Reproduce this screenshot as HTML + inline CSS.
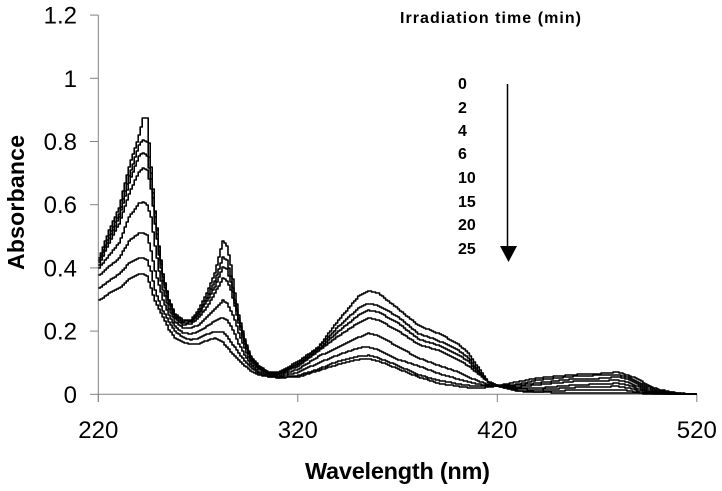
<!DOCTYPE html>
<html>
<head>
<meta charset="utf-8">
<style>
html,body{margin:0;padding:0;background:#fff;}
svg{display:block;font-family:"Liberation Sans",sans-serif;}
</style>
</head>
<body>
<svg id="chart" width="722" height="491" viewBox="0 0 722 491" xmlns="http://www.w3.org/2000/svg">
<rect x="0" y="0" width="722" height="491" fill="#fff"/>
<g id="axes"></g>
<g id="series"></g>
<text transform="translate(24,270) rotate(-90)" font-size="23" font-weight="bold" fill="#000" textLength="135">Absorbance</text>
<text x="305" y="479" font-size="23.5" font-weight="bold" fill="#000" textLength="185">Wavelength (nm)</text>
<text x="400" y="23" font-size="16" font-weight="bold" fill="#000" textLength="181">Irradiation time (min)</text>
<g id="legend"></g>
<line x1="507.5" y1="84" x2="507.5" y2="247" stroke="#000" stroke-width="1.5"/>
<polygon points="500,246 517,246 508.5,262" fill="#000"/>
</svg>
<script>
const wavelengths = [220,225,230,235,240,242,244,246,248,250,252,255,258,262,266,270,274,278,282,284,286,288,290,293,296,300,305,310,320,330,340,350,355,360,370,380,390,400,405,410,415,420,430,440,460,470,480,485,490,495,500,510,520];
const min0 = [.43,.52,.59,.72,.82,.873,.873,.72,.58,.47,.38,.30,.255,.236,.235,.27,.32,.385,.485,.47,.41,.32,.25,.175,.12,.09,.07,.07,.105,.15,.235,.31,.327,.32,.27,.218,.193,.16,.13,.085,.04,.025,.01,.006,.005,.005,.005,.004,.003,.002,.001,.001,0];
const min2 = [.425,.505,.57,.69,.79,.806,.80,.70,.575,.465,.38,.30,.25,.23,.232,.26,.305,.36,.433,.425,.375,.30,.24,.17,.118,.088,.068,.068,.10,.148,.215,.273,.287,.28,.245,.192,.17,.14,.115,.075,.04,.025,.012,.008,.014,.014,.015,.012,.006,.003,.002,.001,0];
const min4 = [.42,.495,.56,.67,.755,.763,.755,.68,.56,.455,.37,.295,.245,.225,.228,.255,.295,.34,.403,.395,.355,.29,.235,.165,.115,.085,.066,.066,.095,.142,.20,.25,.266,.26,.225,.175,.155,.125,.105,.07,.04,.026,.016,.014,.022,.024,.025,.02,.012,.006,.003,.001,0];
const min6 = [.41,.48,.54,.635,.705,.715,.71,.65,.54,.44,.36,.285,.24,.22,.222,.245,.275,.32,.368,.36,.33,.28,.225,.16,.112,.083,.064,.064,.09,.137,.185,.227,.242,.235,.20,.158,.139,.11,.09,.065,.04,.027,.02,.02,.03,.032,.035,.03,.018,.009,.004,.001,0];
const min10 = [.40,.44,.48,.56,.605,.608,.60,.56,.47,.39,.33,.27,.23,.21,.21,.22,.245,.27,.297,.29,.265,.235,.195,.145,.105,.08,.062,.06,.08,.12,.15,.18,.193,.185,.15,.115,.092,.07,.055,.042,.032,.027,.024,.03,.042,.042,.045,.038,.025,.012,.005,.001,0];
const min15 = [.376,.405,.43,.485,.51,.51,.505,.455,.39,.345,.30,.25,.215,.195,.19,.20,.215,.232,.243,.235,.215,.19,.16,.125,.095,.072,.058,.056,.07,.10,.125,.147,.15,.14,.11,.09,.066,.048,.04,.032,.028,.027,.028,.036,.05,.05,.055,.048,.032,.018,.008,.002,0];
const min20 = [.335,.36,.38,.415,.43,.431,.425,.39,.33,.295,.265,.23,.20,.18,.172,.178,.19,.198,.198,.185,.165,.15,.13,.105,.085,.066,.056,.053,.06,.08,.105,.12,.123,.115,.09,.062,.044,.033,.028,.025,.025,.027,.032,.045,.058,.06,.062,.054,.04,.024,.012,.003,0];
const min25 = [.297,.32,.335,.365,.38,.382,.375,.335,.295,.27,.245,.205,.178,.165,.158,.16,.17,.177,.165,.15,.135,.12,.108,.09,.075,.062,.055,.052,.055,.075,.095,.11,.113,.105,.08,.055,.035,.025,.021,.02,.022,.028,.04,.052,.063,.065,.07,.06,.05,.028,.016,.004,0];
const seriesNames = ["0","2","4","6","10","15","20","25"];
const seriesValues = [min0,min2,min4,min6,min10,min15,min20,min25];
const yTicks = [0,0.2,0.4,0.6,0.8,1,1.2];
const xTicks = [220,320,420,520];

const NS = "http://www.w3.org/2000/svg";
const xScale = w => 98.3 + (w - 220) * 1.995;
const yScale = v => 394.3 - v * 316;

function make(tag, parent, attrs, txt) {
  const el = document.createElementNS(NS, tag);
  for (const k in attrs) el.setAttribute(k, attrs[k]);
  if (txt !== undefined) el.textContent = txt;
  parent.appendChild(el);
  return el;
}

/* the spectrum was plotted with a coarse raster: read each value at a 2 px step and draw stairs */
function valueAt(vals, w) {
  let j = 0;
  while (j < wavelengths.length - 2 && wavelengths[j + 1] < w) j++;
  const f = (w - wavelengths[j]) / (wavelengths[j + 1] - wavelengths[j]);
  return vals[j] + (vals[j + 1] - vals[j]) * f;
}
function stairPath(vals) {
  const first = wavelengths[0], last = wavelengths[wavelengths.length - 1];
  let d = "M" + xScale(first).toFixed(1) + " " + Math.round(yScale(vals[0]));
  for (let w = first + 1; w <= last; w += 1) {
    d += "H" + xScale(w).toFixed(1) + "V" + Math.round(yScale(valueAt(vals, w)));
  }
  return d;
}

const axes = document.getElementById("axes");
const yAxisLine = make("line", axes, {x1:xScale(220), y1:yScale(1.2), x2:xScale(220), y2:402, stroke:"#808080", "stroke-width":1});


const xAxisLine = make("line", axes, {x1:xScale(220), y1:yScale(0), x2:xScale(520), y2:yScale(0), stroke:"#808080", "stroke-width":1});



yTicks.forEach(v => {
  const t = make("line", axes, {x1:90, y1:yScale(v), x2:xScale(220), y2:yScale(v), stroke:"#808080", "stroke-width":1});
  
  
  const l = make("text", axes, {x:77, y:yScale(v) + 8.5, "text-anchor":"end", "font-size":24, fill:"#000"}, String(v));
  
  
});
xTicks.forEach(w => {
  const t = make("line", axes, {x1:xScale(w), y1:yScale(0), x2:xScale(w), y2:402, stroke:"#808080", "stroke-width":1});
  
  
  const l = make("text", axes, {x:xScale(w), y:438, "text-anchor":"middle", "font-size":24, fill:"#000"}, String(w));
  
  
});

const seriesGroup = document.getElementById("series");
seriesValues.forEach((vals, i) => {
  const p = make("path", seriesGroup, {d:stairPath(vals), fill:"none", stroke:"#000", "stroke-width":1.6, "stroke-linejoin":"round"});
  
  
});

const legend = document.getElementById("legend");
const legendBaselines = [89,113,136,159,183,207,230,254];
seriesNames.forEach((name, i) => {
  const l = make("text", legend, {x:458, y:legendBaselines[i], "font-size":16, "font-weight":"bold", fill:"#000"}, name);
  
  
});
</script>
</body>
</html>
